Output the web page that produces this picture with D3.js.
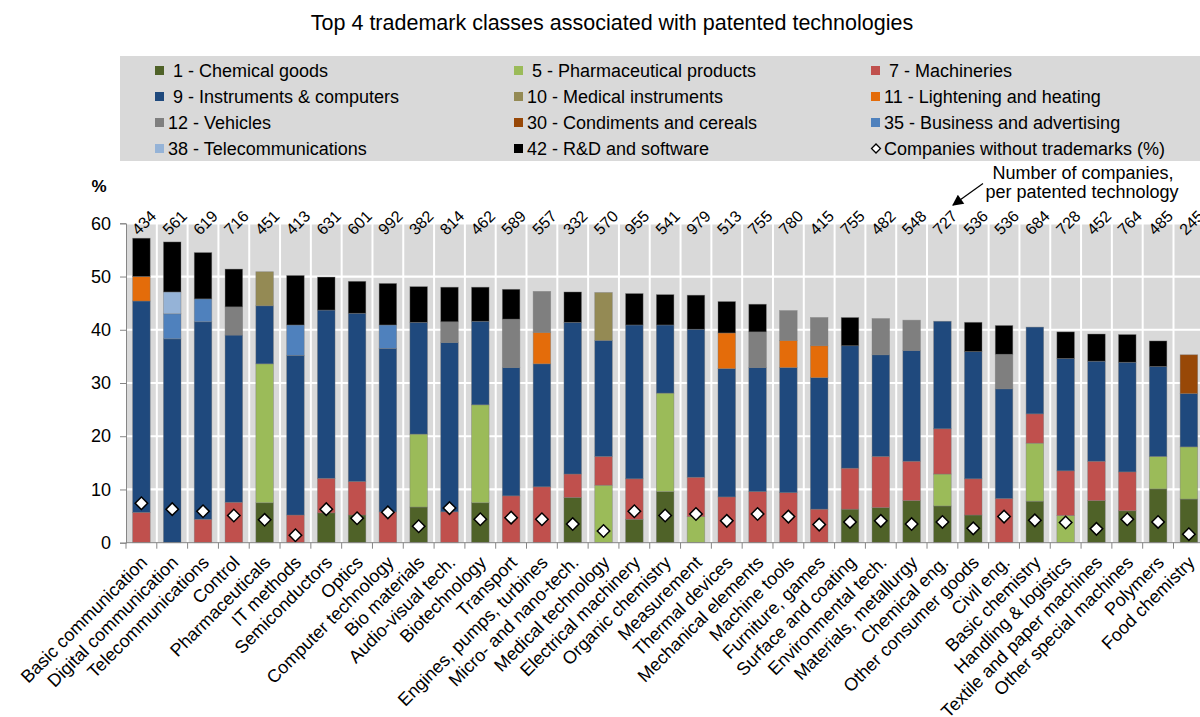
<!DOCTYPE html>
<html>
<head>
<meta charset="utf-8">
<script src="https://cdn.jsdelivr.net/npm/d3@7"></script>
<style>
  html, body { margin: 0; padding: 0; background: #ffffff; }
  svg { display: block; font-family: "Liberation Sans", Arial, sans-serif; }
</style>
</head>
<body>
<svg id="chart" width="1200" height="717"></svg>
<script>
// Technology fields, ordered by total share of the top 4 classes
const categories = [
  "Basic communication", "Digital communication", "Telecommunications", "Control",
  "Pharmaceuticals", "IT methods", "Semiconductors", "Optics", "Computer technology",
  "Bio materials", "Audio-visual tech.", "Biotechnology", "Transport",
  "Engines, pumps, turbines", "Micro- and nano-tech.", "Medical technology",
  "Electrical machinery", "Organic chemistry", "Measurement", "Thermal devices",
  "Mechanical elements", "Machine tools", "Furniture, games", "Surface and coating",
  "Environmental tech.", "Materials, metallurgy", "Chemical eng.", "Other consumer goods",
  "Civil eng.", "Basic chemistry", "Handling & logistics", "Textile and paper machines",
  "Other special machines", "Polymers", "Food chemistry"
];

// Number of companies per patented technology
const companyCounts = [434, 561, 619, 716, 451, 413, 631, 601, 992, 382,
  814, 462, 589, 557, 332, 570, 955, 541, 979, 513,
  755, 780, 415, 755, 482, 548, 727, 536, 536, 684,
  728, 452, 764, 485, 245];

// Share (%) of companies per trademark class (0 = not among the top 4)
const class1 = [0, 0, 0, 0, 7.5, 0, 5.6, 5.2, 0, 6.7,
  0, 7.5, 0, 0, 8.5, 0, 4.4, 9.6, 0, 0,
  0, 0, 0, 6.3, 6.6, 7.9, 6.9, 5.2, 0, 7.8,
  0, 7.9, 6.0, 10.1, 8.2];
const class5 = [0, 0, 0, 0, 26.1, 0, 0, 0, 0, 13.7,
  0, 18.4, 0, 0, 0, 10.8, 0, 18.5, 4.9, 0,
  0, 0, 0, 0, 0, 0, 6.0, 0, 0, 10.9,
  5.1, 0, 0, 6.1, 9.8];
const class7 = [5.7, 0, 4.4, 7.6, 0, 5.2, 6.5, 6.3, 5.8, 0,
  5.8, 0, 8.8, 10.5, 4.4, 5.4, 7.6, 0, 7.4, 8.6,
  9.6, 9.4, 6.3, 7.7, 9.6, 7.4, 8.5, 6.8, 8.3, 5.5,
  8.4, 7.4, 7.3, 0, 0];
const class9 = [39.7, 38.3, 37.1, 31.4, 10.9, 30.0, 31.6, 31.6, 30.7, 21.0,
  31.8, 15.7, 24.1, 23.1, 28.5, 21.8, 28.9, 12.8, 27.8, 24.1,
  23.3, 23.5, 24.7, 23.0, 19.1, 20.8, 20.2, 23.9, 20.6, 16.3,
  21.1, 18.8, 20.6, 16.9, 10.0];
const class10 = [0, 0, 0, 0, 6.4, 0, 0, 0, 0, 0,
  0, 0, 0, 0, 0, 9.0, 0, 0, 0, 0,
  0, 0, 0, 0, 0, 0, 0, 0, 0, 0,
  0, 0, 0, 0, 0];
const class11 = [4.6, 0, 0, 0, 0, 0, 0, 0, 0, 0,
  0, 0, 0, 5.9, 0, 0, 0, 0, 0, 6.7,
  0, 5.1, 6.0, 0, 0, 0, 0, 0, 0, 0,
  0, 0, 0, 0, 0];
const class12 = [0, 0, 0, 5.3, 0, 0, 0, 0, 0, 0,
  3.9, 0, 9.1, 7.7, 0, 0, 0, 0, 0, 0,
  6.7, 5.6, 5.3, 0, 6.8, 5.7, 0, 0, 6.5, 0,
  0, 0, 0, 0, 0];
const class30 = [0, 0, 0, 0, 0, 0, 0, 0, 0, 0,
  0, 0, 0, 0, 0, 0, 0, 0, 0, 0,
  0, 0, 0, 0, 0, 0, 0, 0, 0, 0,
  0, 0, 0, 0, 7.3];
const class35 = [0, 4.7, 4.3, 0, 0, 5.7, 0, 0, 4.4, 0,
  0, 0, 0, 0, 0, 0, 0, 0, 0, 0,
  0, 0, 0, 0, 0, 0, 0, 0, 0, 0,
  0, 0, 0, 0, 0];
const class38 = [0, 4.1, 0, 0, 0, 0, 0, 0, 0, 0,
  0, 0, 0, 0, 0, 0, 0, 0, 0, 0,
  0, 0, 0, 0, 0, 0, 0, 0, 0, 0,
  0, 0, 0, 0, 0];
const class42 = [7.2, 9.4, 8.7, 7.1, 0, 9.3, 6.2, 6.0, 7.8, 6.7,
  6.5, 6.4, 5.6, 0, 5.7, 0, 5.9, 5.7, 6.4, 5.9,
  5.2, 0, 0, 5.3, 0, 0, 0, 5.5, 5.4, 0,
  5.0, 5.1, 5.2, 4.8, 0];

// Companies without trademarks (%)
const noTrademark = [7.4, 6.3, 5.9, 5.1, 4.3, 1.4, 6.3, 4.6, 5.7, 3.1,
  6.5, 4.4, 4.7, 4.4, 3.5, 2.2, 5.9, 5.1, 5.4, 4.1,
  5.4, 4.9, 3.4, 3.9, 4.1, 3.5, 3.9, 2.7, 4.9, 4.2,
  3.8, 2.6, 4.4, 3.9, 1.6];

const classKeys = ["c1", "c5", "c7", "c9", "c10", "c11", "c12", "c30", "c35", "c38", "c42"];
const classLabels = [" 1 - Chemical goods", " 5 - Pharmaceutical products", " 7 - Machineries",
  " 9 - Instruments & computers", "10 - Medical instruments", "11 - Lightening and heating",
  "12 - Vehicles", "30 - Condiments and cereals", "35 - Business and advertising",
  "38 - Telecommunications", "42 - R&D and software"];
const classColors = ["#4f6228", "#9bbb59", "#c0504d", "#1f497d", "#948a54", "#e46c0a",
  "#7f7f7f", "#984807", "#4f81bd", "#95b3d7", "#000000"];
const yTicks = [0, 10, 20, 30, 40, 50, 60];

const classSeries = [class1, class5, class7, class9, class10, class11, class12, class30, class35, class38, class42];
const rows = categories.map((name, i) => {
  const r = { name, count: companyCounts[i], none: noTrademark[i] };
  classKeys.forEach((k, j) => { r[k] = classSeries[j][i]; });
  return r;
});

const svg = d3.select("#chart");
const plot = { left: 126, right: 1204.3, top: 223.3, bottom: 542.7 };

const x = d3.scaleBand()
  .domain(categories)
  .range([plot.left, plot.right])
  .paddingInner(0.43)
  .paddingOuter(0.215);
const y = d3.scaleLinear().domain([0, 60]).range([plot.bottom, plot.top]);
const color = d3.scaleOrdinal().domain(classKeys).range(classColors);

// Title
svg.append("text")
  .attr("x", 612).attr("y", 30)
  .attr("text-anchor", "middle")
  .attr("font-size", 21.5)
  .attr("fill", "#000")
  .text("Top 4 trademark classes associated with patented technologies");

// Legend panel
const legend = svg.append("g");
legend.append("rect")
  .attr("x", 120).attr("y", 56).attr("width", 1090).attr("height", 105)
  .attr("fill", "#d9d9d9");
const colX = [155, 514, 871];
const rowY = [70.5, 96.5, 122.5, 148.5];
const legendItems = classKeys.map((k, i) => ({ key: k, label: classLabels[i], color: classColors[i] }));
legendItems.push({ key: "none", label: "Companies without trademarks (%)", color: null });
legendItems.forEach((d, i) => {
  const cx = colX[i % 3], cy = rowY[Math.floor(i / 3)];
  if (d.color) {
    legend.append("rect")
      .attr("x", cx).attr("y", cy - 4.5).attr("width", 9).attr("height", 9)
      .attr("fill", d.color);
  } else {
    legend.append("path")
      .attr("d", d3.symbol(d3.symbolSquare, 40)())
      .attr("transform", `translate(${cx + 5},${cy}) rotate(45)`)
      .attr("fill", "#fff").attr("stroke", "#000").attr("stroke-width", 1.3);
  }
  legend.append("text")
    .attr("x", cx + 13).attr("y", cy)
    .attr("dy", "0.35em")
    .attr("font-size", 18)
    .attr("xml:space", "preserve")
    .style("white-space", "pre")
    .attr("fill", "#000")
    .text(d.label);
});

// Plot background
svg.append("rect")
  .attr("x", plot.left).attr("y", plot.top)
  .attr("width", plot.right - plot.left).attr("height", plot.bottom - plot.top)
  .attr("fill", "#d9d9d9");

// White grid lines
const grid = svg.append("g");
grid.selectAll("line.h")
  .data(yTicks.filter(t => t > 0))
  .join("line")
  .attr("x1", plot.left).attr("x2", plot.right)
  .attr("y1", d => y(d)).attr("y2", d => y(d))
  .attr("stroke", "#fff").attr("stroke-width", 2.2);
grid.selectAll("line.v")
  .data(categories.slice(1))
  .join("line")
  .attr("x1", d => x(d) - x.step() * x.paddingInner() / 2)
  .attr("x2", d => x(d) - x.step() * x.paddingInner() / 2)
  .attr("y1", plot.top).attr("y2", plot.bottom)
  .attr("stroke", "#fff").attr("stroke-width", 2);

// Stacked bars
const stacked = d3.stack().keys(classKeys)(rows);
svg.append("g")
  .selectAll("g")
  .data(stacked)
  .join("g")
  .attr("fill", d => color(d.key))
  .selectAll("rect")
  .data(d => d.filter(s => s[1] - s[0] > 0))
  .join("rect")
  .attr("x", d => x(d.data.name))
  .attr("width", x.bandwidth())
  .attr("y", d => y(d[1]))
  .attr("height", d => y(d[0]) - y(d[1]))
  .attr("stroke", "rgba(120,120,120,0.55)")
  .attr("stroke-width", 0.7);

// Diamonds: companies without trademarks
svg.append("g")
  .selectAll("path")
  .data(rows)
  .join("path")
  .attr("d", d3.symbol(d3.symbolSquare, 78)())
  .attr("transform", d => `translate(${x(d.name) + x.bandwidth() / 2},${y(d.none)}) rotate(45)`)
  .attr("fill", "#fff")
  .attr("stroke", "#000")
  .attr("stroke-width", 1.5);

// Axes
const axisColor = "#868686";
const yAxis = svg.append("g")
  .attr("transform", `translate(${plot.left},0)`)
  .call(d3.axisLeft(y).tickValues(yTicks).tickSize(6).tickPadding(9));
yAxis.select(".domain").attr("stroke", axisColor);
yAxis.selectAll(".tick line").attr("stroke", axisColor);
yAxis.selectAll(".tick text")
  .attr("font-size", 18).attr("fill", "#000")
  .attr("font-family", "'Liberation Sans', Arial, sans-serif");

const xAxis = svg.append("g");
xAxis.append("line")
  .attr("x1", plot.left).attr("x2", plot.right)
  .attr("y1", plot.bottom).attr("y2", plot.bottom)
  .attr("stroke", axisColor);
xAxis.selectAll("line.tick")
  .data(categories.concat([null]))
  .join("line")
  .attr("x1", (d, i) => plot.left + i * x.step())
  .attr("x2", (d, i) => plot.left + i * x.step())
  .attr("y1", plot.bottom).attr("y2", plot.bottom + 6)
  .attr("stroke", axisColor);

// Category labels
xAxis.selectAll("text")
  .data(categories)
  .join("text")
  .attr("transform", d => `translate(${x(d) + x.bandwidth() / 2 + 7},${plot.bottom + 21}) rotate(-45)`)
  .attr("text-anchor", "end")
  .attr("font-size", 18)
  .attr("fill", "#000")
  .text(d => d);

// Company counts above each bar
svg.append("g")
  .selectAll("text")
  .data(rows)
  .join("text")
  .attr("transform", d => `translate(${x(d.name) + x.bandwidth() / 2 - 3},236) rotate(-45)`)
  .attr("font-size", 16)
  .attr("fill", "#000")
  .text(d => d.count);

// Unit label
svg.append("text")
  .attr("x", 99).attr("y", 192)
  .attr("text-anchor", "middle")
  .attr("font-size", 17).attr("font-weight", "bold")
  .text("%");

// Annotation for the counts
const note = svg.append("g");
note.append("text")
  .attr("x", 1083).attr("y", 179)
  .attr("text-anchor", "middle").attr("font-size", 18)
  .text("Number of companies,");
note.append("text")
  .attr("x", 1082).attr("y", 197.5)
  .attr("text-anchor", "middle").attr("font-size", 18)
  .text("per patented technology");
svg.append("defs").append("marker")
  .attr("id", "arrow")
  .attr("viewBox", "0 0 10 10")
  .attr("refX", 9).attr("refY", 5)
  .attr("markerWidth", 13).attr("markerHeight", 11)
  .attr("markerUnits", "userSpaceOnUse")
  .attr("orient", "auto")
  .append("path")
  .attr("d", "M0,0 L10,5 L0,10 Z")
  .attr("fill", "#000");
note.append("line")
  .attr("x1", 983).attr("y1", 183.5)
  .attr("x2", 953).attr("y2", 205)
  .attr("stroke", "#000").attr("stroke-width", 1.2)
  .attr("marker-end", "url(#arrow)");
</script>
</body>
</html>
